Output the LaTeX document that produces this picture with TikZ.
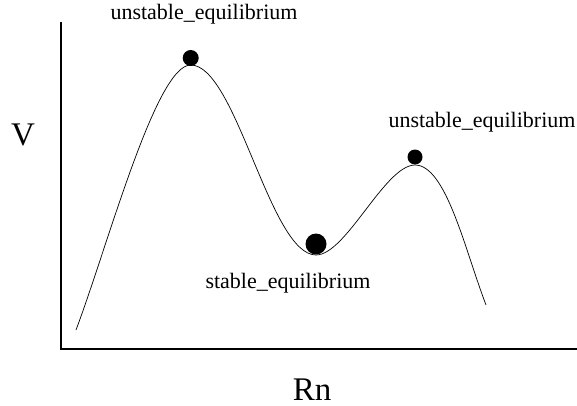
\documentclass[tikz,border=0pt]{standalone}
\usepackage{fontspec}
\setmainfont{Liberation Serif}
\usetikzlibrary{positioning}

\begin{document}
\begin{tikzpicture}[
    x=1pt, y=-1pt,
    axis/.style={draw, line width=1.3pt},
    curve/.style={draw, line width=0.7pt},
    ball/.style={circle, fill=black, inner sep=0pt},
    eqlabel/.style={font=\fontsize{22}{26}\selectfont, anchor=base, inner sep=0pt},
    axlabel/.style={font=\fontsize{33}{38}\selectfont, anchor=base, inner sep=0pt}
  ]
  \useasboundingbox (0,0) rectangle (577,406);

  % axes
  \coordinate (ytop) at (61,22);
  \coordinate (origin) at (61,349);
  \coordinate (xend) at (577,349);
  \draw[axis] (ytop) -- (origin) -- (xend);
  \node[axlabel] (vlabel) at (23,146) {V};
  \node[axlabel] (rnlabel) at (312,400) {Rn};

  % potential
  \coordinate (start) at (76,330);
  \coordinate (peakA) at (190.7,65);
  \coordinate (valley) at (316,255);
  \coordinate (peakB) at (415,165);
  \coordinate (stop) at (486,305);
  \draw[curve] (start) .. controls (108,245) and (156,65) .. (peakA)
    .. controls (236,65) and (270,255) .. (valley)
    .. controls (346,255) and (385,165) .. (peakB)
    .. controls (446,165) and (465,250) .. (stop);

  % balls
  \node[ball, minimum size=16pt] (ballA) at (190.7,58) {};
  \node[ball, minimum size=21pt] (ballV) at (316,244) {};
  \node[ball, minimum size=15pt] (ballB) at (415,157) {};

  \node[eqlabel] (labA) at (204,20) {unstable\_equilibrium};
  \node[eqlabel] (labV) at (288,288) {stable\_equilibrium};
  \node[eqlabel] (labB) at (482,128) {unstable\_equilibrium};
\end{tikzpicture}
\end{document}
